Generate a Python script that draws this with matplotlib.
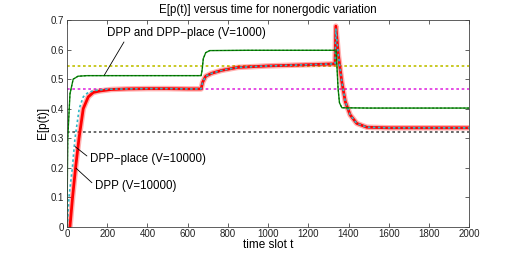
import numpy as np
import matplotlib.pyplot as plt

plt.rcParams['font.family'] = ['Liberation Sans', 'DejaVu Sans']

# DPP (V=10000), red
t_dpp = [15, 28, 43, 60, 81, 106, 131, 164, 220, 300, 400, 500, 600, 667, 675, 690, 720, 770,
         850, 1000, 1150, 1333, 1337, 1350, 1367, 1384, 1408, 1441, 1491, 1600, 1800, 2000]
p_dpp = [0.0, 0.1, 0.2, 0.3, 0.4, 0.44, 0.455, 0.46, 0.465, 0.467, 0.468, 0.468, 0.467, 0.467,
         0.49, 0.51, 0.52, 0.53, 0.54, 0.545, 0.548, 0.552, 0.68, 0.58, 0.49, 0.424, 0.379,
         0.35, 0.337, 0.335, 0.335, 0.335]

# DPP-place (V=10000), cyan
t_place = [2, 10, 27, 40, 61, 81, 105, 140, 200, 300, 400, 500, 600, 667, 675, 690, 720, 770,
           850, 1000, 1150, 1333, 1337, 1350, 1367, 1384, 1408, 1441, 1491, 1600, 1800, 2000]
p_place = [0.0, 0.1, 0.2, 0.3, 0.4, 0.44, 0.455, 0.462, 0.466, 0.467, 0.468, 0.468, 0.467, 0.467,
           0.49, 0.51, 0.52, 0.53, 0.54, 0.545, 0.548, 0.552, 0.67, 0.58, 0.49, 0.424, 0.379,
           0.35, 0.337, 0.335, 0.335, 0.335]

# DPP and DPP-place (V=1000), green
t_v1000 = [0, 4, 15, 31, 55, 100, 300, 500, 667, 672, 678, 690, 710, 900, 1100, 1333, 1338,
           1342, 1348, 1355, 1367, 1500, 1700, 2000]
p_v1000 = [0.0, 0.3, 0.45, 0.5, 0.51, 0.512, 0.512, 0.512, 0.512, 0.53, 0.57, 0.59, 0.597,
           0.598, 0.598, 0.598, 0.598, 0.55, 0.47, 0.42, 0.403, 0.402, 0.402, 0.402]

# reference levels
ref_levels = [0.546, 0.467, 0.322]
ref_colors = ['#c0c000', '#e030e0', '#505050']

fig = plt.figure(figsize=(5.19, 2.56), dpi=100)
ax = fig.add_axes([0.129, 0.115, 0.775, 0.806])

for lvl, c in zip(ref_levels, ref_colors):
    ax.axhline(lvl, color=c, lw=1.2, dashes=(1.6, 1.6))

ax.plot(t_dpp, p_dpp, color='red', lw=4, alpha=0.3)
ax.plot(t_dpp, p_dpp, color='red', lw=2.0)
ax.plot(t_place, p_place, color='#30b8c8', lw=1.2, dashes=(1.5, 1.5))
ax.plot(t_v1000, p_v1000, color='#109010', lw=1.0)
ax.plot(t_v1000, p_v1000, color='#006000', lw=0.7, dashes=(2, 2))

ax.set_xlim(0, 2000)
ax.set_ylim(0, 0.7)
ax.set_xticks(np.arange(0, 2001, 200))
ax.set_yticks(np.arange(0, 0.71, 0.1))
ax.set_yticklabels(['0', '0.1', '0.2', '0.3', '0.4', '0.5', '0.6', '0.7'])
ax.tick_params(direction='in', top=True, right=True, labelsize=7, length=3, width=0.5,
               pad=2, colors='#222222')
for s in ax.spines.values():
    s.set_linewidth(0.6)
    s.set_color('#444444')

ax.set_title('E[p(t)] versus time for nonergodic variation', fontsize=8.3, pad=5)
ax.set_xlabel('time slot t', fontsize=8.5, labelpad=0)
ax.set_ylabel('E[p(t)]', fontsize=8.5, labelpad=1)

ax.annotate('DPP and DPP\u2212place (V=1000)', xy=(186, 0.514), xytext=(197, 0.656),
            fontsize=8.3, va='center', ha='left',
            arrowprops=dict(arrowstyle='-', lw=0.6, color='black', shrinkA=0, shrinkB=0,
                            relpos=(0.12, 0.0)))
ax.annotate('DPP\u2212place (V=10000)', xy=(41, 0.271), xytext=(113, 0.228),
            fontsize=8.3, va='center', ha='left',
            arrowprops=dict(arrowstyle='-', lw=0.6, color='black', shrinkA=0, shrinkB=0,
                            relpos=(0.0, 0.6)))
ax.annotate('DPP (V=10000)', xy=(45, 0.198), xytext=(138, 0.136),
            fontsize=8.3, va='center', ha='left',
            arrowprops=dict(arrowstyle='-', lw=0.6, color='black', shrinkA=0, shrinkB=0,
                            relpos=(0.0, 0.6)))

fig.savefig('out.png', dpi=100)
